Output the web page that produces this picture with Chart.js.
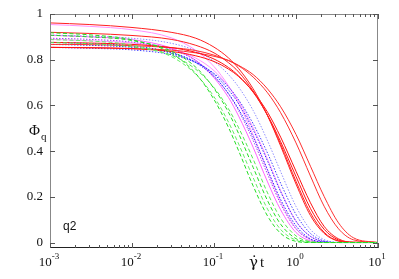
<!DOCTYPE html>
<html>
<head>
<meta charset="utf-8">
<script src="https://cdn.jsdelivr.net/npm/chart.js@4/dist/chart.umd.min.js"></script>
<style>
  html, body { margin: 0; padding: 0; background: #fff; }
  #wrap { width: 399px; height: 279px; }
</style>
</head>
<body>
<div id="wrap"><canvas id="corr" width="399" height="279"></canvas></div>
<script>
// shear rate * time (shared abscissa for every curve)
const times = [0.001, 0.003, 0.01, 0.03, 0.06, 0.1, 0.15, 0.2, 0.3, 0.45, 0.65, 1, 1.5, 2.2, 3.3, 5, 10];

// red, solid
const red1 = [0.961, 0.954, 0.941, 0.920, 0.894, 0.855, 0.808, 0.761, 0.673, 0.555, 0.422, 0.256, 0.118, 0.040, 0.006, 0, 0];
const red2 = [0.920, 0.915, 0.906, 0.889, 0.863, 0.830, 0.787, 0.746, 0.663, 0.555, 0.430, 0.268, 0.130, 0.045, 0.007, 0.001, 0];
const red3 = [0.876, 0.873, 0.867, 0.853, 0.832, 0.803, 0.766, 0.729, 0.658, 0.557, 0.441, 0.289, 0.149, 0.058, 0.011, 0.001, 0];
const red4 = [0.854, 0.852, 0.848, 0.836, 0.817, 0.792, 0.759, 0.726, 0.660, 0.570, 0.461, 0.312, 0.174, 0.071, 0.016, 0.001, 0];
const red5 = [0.867, 0.866, 0.861, 0.853, 0.840, 0.820, 0.796, 0.773, 0.724, 0.655, 0.568, 0.436, 0.291, 0.159, 0.060, 0.012, 0];
const red6 = [0.854, 0.853, 0.849, 0.842, 0.830, 0.815, 0.797, 0.775, 0.735, 0.672, 0.594, 0.473, 0.334, 0.202, 0.086, 0.021, 0];
// magenta, solid
const mag1 = [0.954, 0.946, 0.931, 0.896, 0.841, 0.770, 0.686, 0.608, 0.471, 0.315, 0.178, 0.062, 0.014, 0.001, 0, 0, 0];
const mag2 = [0.907, 0.900, 0.888, 0.851, 0.797, 0.721, 0.635, 0.553, 0.417, 0.265, 0.143, 0.044, 0.007, 0, 0, 0, 0];
const mag3 = [0.889, 0.883, 0.873, 0.848, 0.807, 0.752, 0.682, 0.619, 0.502, 0.364, 0.227, 0.094, 0.027, 0.004, 0, 0, 0];
// blue / violet, dotted
const blue1 = [0.876, 0.871, 0.860, 0.832, 0.787, 0.726, 0.652, 0.583, 0.462, 0.318, 0.188, 0.073, 0.016, 0.002, 0, 0, 0];
const blue2 = [0.867, 0.863, 0.854, 0.829, 0.790, 0.736, 0.668, 0.607, 0.493, 0.356, 0.222, 0.093, 0.027, 0.004, 0, 0, 0];
const blue3 = [0.854, 0.850, 0.843, 0.822, 0.787, 0.740, 0.681, 0.624, 0.520, 0.391, 0.259, 0.123, 0.040, 0.007, 0, 0, 0];
const blue4 = [0.908, 0.903, 0.894, 0.872, 0.839, 0.792, 0.735, 0.680, 0.578, 0.445, 0.310, 0.158, 0.057, 0.013, 0.001, 0, 0];
const violet1 = [0.894, 0.889, 0.877, 0.846, 0.796, 0.729, 0.650, 0.576, 0.447, 0.299, 0.169, 0.059, 0.013, 0.001, 0, 0, 0];
// green, dashed
const green1 = [0.918, 0.909, 0.887, 0.829, 0.739, 0.626, 0.504, 0.401, 0.248, 0.116, 0.040, 0.005, 0, 0, 0, 0, 0];
const green2 = [0.888, 0.882, 0.864, 0.814, 0.736, 0.638, 0.527, 0.431, 0.284, 0.146, 0.057, 0.010, 0.001, 0, 0, 0, 0];
const green3 = [0.907, 0.900, 0.884, 0.838, 0.767, 0.674, 0.570, 0.476, 0.329, 0.183, 0.080, 0.017, 0.002, 0, 0, 0, 0];
const green4 = [0.875, 0.870, 0.856, 0.820, 0.758, 0.678, 0.585, 0.502, 0.365, 0.217, 0.106, 0.029, 0.004, 0, 0, 0, 0];

// axis ticks
const xDecades = [0.001, 0.01, 0.1, 1, 10];
const xExponents = ['-3', '-2', '-1', '0', '1'];
const yTicks = [0, 0.2, 0.4, 0.6, 0.8, 1];
const yTickLabels = ['0', '0.2', '0.4', '0.6', '0.8', '1'];

function series(values, color, dash) {
    return {
        data: values.map((v, i) => ({ x: times[i], y: v })),
        borderColor: color,
        borderWidth: 1,
        borderDash: dash,
        pointRadius: 0,
        fill: false,
        cubicInterpolationMode: 'monotone'
    };
}

const DOT = [1.5, 1.5];
const DASH = [4, 2.5];

const datasets = [
    series(green1, '#22dd22', DASH),
    series(green2, '#66ee66', DASH),
    series(green3, '#22dd22', DASH),
    series(green4, '#55e855', DASH),
    series(red1, '#ff2020', []),
    series(red2, '#ff2020', []),
    series(red3, '#ff1010', []),
    series(red4, '#ff1010', []),
    series(red5, '#ff3030', []),
    series(red6, '#ff3030', []),
    series(blue1, '#2020ff', DOT),
    series(blue2, '#3030ff', DOT),
    series(blue3, '#4040ff', DOT),
    series(blue4, '#9090ff', DOT),
    series(violet1, '#a040f0', DOT),
    series(mag1, '#ff90ff', []),
    series(mag2, '#ff60ff', []),
    series(mag3, '#ff90ff', [])
];

// frame, inward ticks and all axis text
const framePlugin = {
    id: 'frame',
    afterDraw(chart) {
        const { ctx, chartArea: a, scales: { x, y } } = chart;
        ctx.save();
        ctx.lineWidth = 1;

        // frame
        ctx.strokeStyle = '#888';
        ctx.beginPath();
        ctx.moveTo(a.left + 0.5, a.bottom);
        ctx.lineTo(a.left + 0.5, a.top + 0.5);
        ctx.lineTo(a.right - 0.5, a.top + 0.5);
        ctx.lineTo(a.right - 0.5, a.bottom);
        ctx.stroke();
        ctx.strokeStyle = '#222';
        ctx.beginPath();
        ctx.moveTo(a.left, a.bottom - 0.5);
        ctx.lineTo(a.right, a.bottom - 0.5);
        ctx.stroke();

        // x ticks, top and bottom
        ctx.strokeStyle = '#555';
        ctx.beginPath();
        xDecades.forEach((d, i) => {
            for (let m = 1; m <= 9; m++) {
                const v = d * m;
                if (v > 10 || (i === xDecades.length - 1 && m > 1)) continue;
                const px = Math.round(x.getPixelForValue(v)) + 0.5;
                const len = m === 1 ? 5 : 3;
                ctx.moveTo(px, a.bottom);
                ctx.lineTo(px, a.bottom - len);
                ctx.moveTo(px, a.top);
                ctx.lineTo(px, a.top + len);
            }
        });
        // y ticks, left and right
        yTicks.forEach(v => {
            const py = Math.round(y.getPixelForValue(v)) + 0.5;
            ctx.moveTo(a.left, py);
            ctx.lineTo(a.left + 5, py);
            ctx.moveTo(a.right, py);
            ctx.lineTo(a.right - 5, py);
        });
        ctx.stroke();

        // y tick labels
        ctx.fillStyle = '#111';
        ctx.font = '13px "Liberation Serif", serif';
        ctx.textAlign = 'right';
        ctx.textBaseline = 'middle';
        yTicks.forEach((v, i) => {
            ctx.fillText(yTickLabels[i], 43, y.getPixelForValue(v));
        });

        // x tick labels: 10 with superscript exponent
        ctx.textBaseline = 'alphabetic';
        xDecades.forEach((d, i) => {
            const px = x.getPixelForValue(d);
            ctx.font = '13px "Liberation Serif", serif';
            const wBase = ctx.measureText('10').width;
            ctx.font = '9px "Liberation Serif", serif';
            const wExp = ctx.measureText(xExponents[i]).width;
            const left = px - (wBase + wExp) / 2 - 1;
            ctx.textAlign = 'left';
            ctx.font = '13px "Liberation Serif", serif';
            ctx.fillText('10', left, 266);
            ctx.font = '9px "Liberation Serif", serif';
            ctx.fillText(xExponents[i], left + wBase, 259);
        });

        // axis titles: gamma-dot t
        ctx.font = '15px "DejaVu Serif", serif';
        ctx.textAlign = 'left';
        ctx.fillText('\u03B3\u0307', 249, 267);
        ctx.font = '15px "Liberation Serif", serif';
        ctx.fillText('t', 260, 267);
        ctx.fillText('\u03A6', 29, 135);
        ctx.font = '11px "Liberation Serif", serif';
        ctx.fillText('q', 41, 140);

        // panel label
        ctx.font = '12px "Liberation Sans", sans-serif';
        ctx.fillText('q2', 63, 230);

        ctx.restore();
    }
};

new Chart(document.getElementById('corr'), {
    type: 'line',
    data: { datasets },
    options: {
        responsive: false,
        animation: false,
        events: [],
        layout: { padding: { left: 50, right: 21, top: 14, bottom: 31 } },
        plugins: { legend: { display: false }, tooltip: { enabled: false } },
        scales: {
            x: { type: 'logarithmic', display: false, min: 0.001, max: 10 },
            y: { type: 'linear', display: false, min: -0.024, max: 1 }
        }
    },
    plugins: [framePlugin]
});
</script>
</body>
</html>
